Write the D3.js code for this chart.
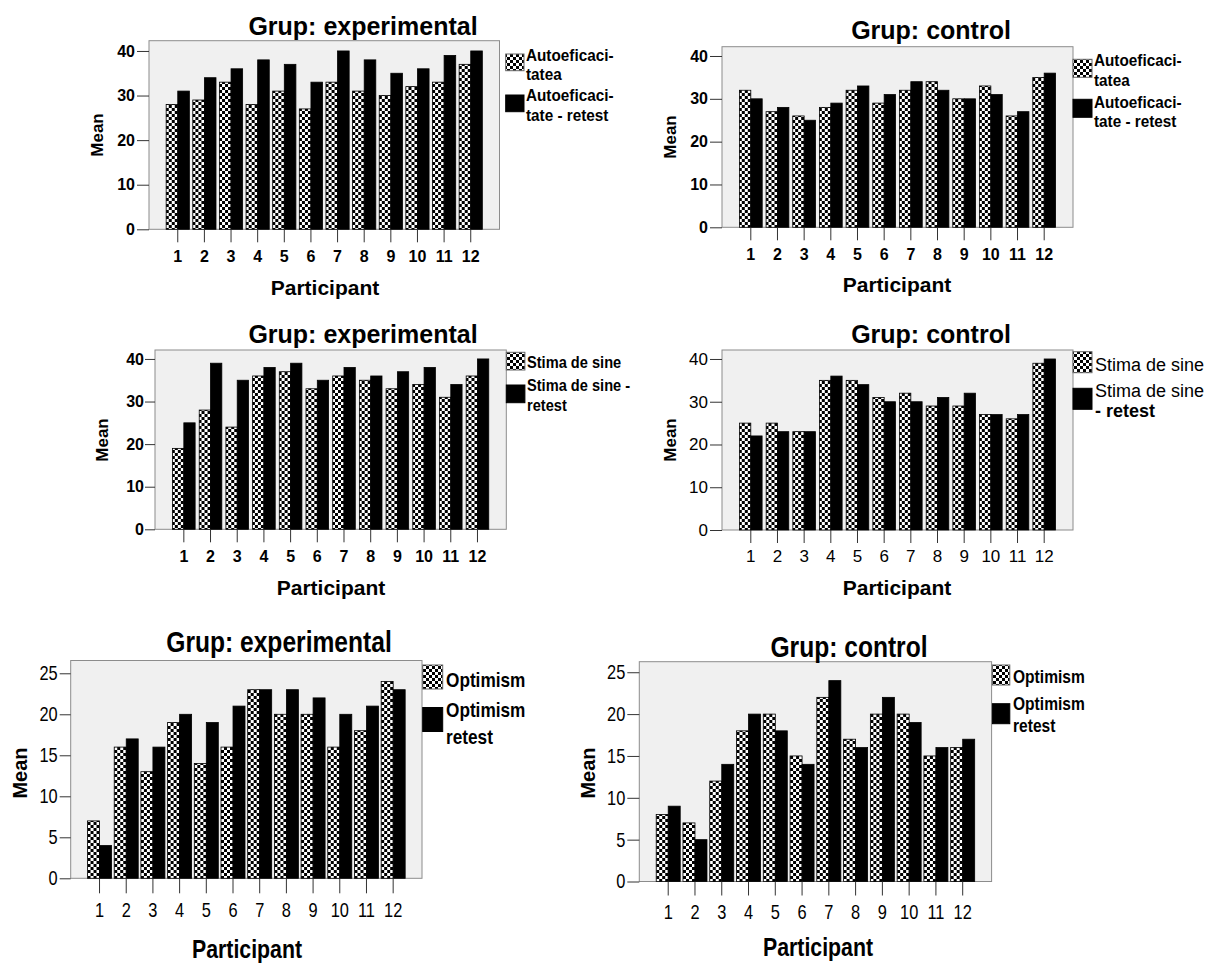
<!DOCTYPE html>
<html lang="ro">
<head>
<meta charset="UTF-8">
<title>Autoeficacitate, stima de sine, optimism - test / retest</title>
<script src="https://d3js.org/d3.v7.min.js"></script>
<style>
  body { margin: 0; background: #fff; }
  svg text { font-family: "Liberation Sans", Arial, sans-serif; fill: #000; }
</style>
</head>
<body>
<svg id="chart" width="1212" height="963"></svg>
<script>
const participants = ["1", "2", "3", "4", "5", "6", "7", "8", "9", "10", "11", "12"];

const autoefExp = [28, 29, 33, 28, 31, 27, 33, 31, 30, 32, 33, 37];
const autoefExpRetest = [31, 34, 36, 38, 37, 33, 40, 38, 35, 36, 39, 40];
const autoefCtrl = [32, 27, 26, 28, 32, 29, 32, 34, 30, 33, 26, 35];
const autoefCtrlRetest = [30, 28, 25, 29, 33, 31, 34, 32, 30, 31, 27, 36];

const stimaExp = [19, 28, 24, 36, 37, 33, 36, 35, 33, 34, 31, 36];
const stimaExpRetest = [25, 39, 35, 38, 39, 35, 38, 36, 37, 38, 34, 40];
const stimaCtrl = [25, 25, 23, 35, 35, 31, 32, 29, 29, 27, 26, 39];
const stimaCtrlRetest = [22, 23, 23, 36, 34, 30, 30, 31, 32, 27, 27, 40];

const optimExp = [7, 16, 13, 19, 14, 16, 23, 20, 20, 16, 18, 24];
const optimExpRetest = [4, 17, 16, 20, 19, 21, 23, 23, 22, 20, 21, 23];
const optimCtrl = [8, 7, 12, 18, 20, 15, 22, 17, 20, 20, 15, 16];
const optimCtrlRetest = [9, 5, 14, 20, 18, 14, 24, 16, 22, 19, 16, 17];

const yTicks40 = [0, 10, 20, 30, 40];
const yTicks25 = [0, 5, 10, 15, 20, 25];

const legendAutoef = [["Autoeficaci-", "tatea"], ["Autoeficaci-", "tate - retest"]];
const legendStimaExp = [["Stima de sine"], ["Stima de sine -", "retest"]];
const legendStimaCtrl = [["Stima de sine"], ["Stima de sine", "- retest"]];
const legendOptim = [["Optimism"], ["Optimism", "retest"]];

// ---- fonts per row of charts ----
const bold = (size, narrow) => ({ size, weight: "bold", narrow: narrow || 0 });
const reg = (size, narrow) => ({ size, weight: "normal", narrow: narrow || 0 });

const topFonts = { title: bold(25), tick: bold(16), mean: bold(17), part: bold(21), legend: bold(17, 0.9) };
const midCtrlFonts = { title: bold(25), tick: reg(17), mean: bold(17), part: bold(21), legend: reg(18) };
const lowFonts = { title: bold(30, 0.82), tick: reg(20, 0.82), mean: bold(20), part: bold(26, 0.82), legend: bold(20, 0.82) };

// ---- panel layout ----
const panels = [
  { title: "Grup: experimental", series: [autoefExp, autoefExpRetest], legend: legendAutoef, ticks: yTicks40, ymax: 42.3,
    left: 149, right: 499.5, top: 40.7, bottom: 229.3, barW: 11.6, yTick: 12, yPad: 2, xTick: 13,
    titleX: 363, titleY: 35, meanX: 97, meanY: 135, partX: 325, partY: 295, tickY: 261.7,
    legX: 505.7, legW: 18.3, legH: 16.7, legY: [54, 95], legTX: 526, legLines: [[60.5, 80], [101, 120.5]],
    fonts: topFonts },
  { title: "Grup: control", series: [autoefCtrl, autoefCtrlRetest], legend: legendAutoef, ticks: yTicks40, ymax: 42.17,
    left: 722, right: 1073, top: 46.7, bottom: 227.3, barW: 11.4, yTick: 12, yPad: 2, xTick: 13,
    titleX: 931, titleY: 39.3, meanX: 670, meanY: 137, partX: 897, partY: 292, tickY: 260,
    legX: 1073, legW: 19, legH: 18, legY: [59.3, 99.3], legTX: 1094, legLines: [[66, 85.5], [107.5, 127]],
    fonts: topFonts },
  { title: "Grup: experimental", series: [stimaExp, stimaExpRetest], legend: legendStimaExp, ticks: yTicks40, ymax: 42.1,
    left: 155, right: 506.3, top: 350, bottom: 529.3, barW: 11.3, yTick: 10, yPad: 1, xTick: 13,
    titleX: 363, titleY: 342.7, meanX: 102, meanY: 440, partX: 331, partY: 595, tickY: 561.7,
    legX: 506.3, legW: 18.6, legH: 17.7, legY: [352.3, 385], legTX: 527, legLines: [[368], [391, 410.5]],
    fonts: Object.assign({}, topFonts, { legend: bold(17, 0.86) }) },
  { title: "Grup: control", series: [stimaCtrl, stimaCtrlRetest], legend: legendStimaCtrl, ticks: yTicks40, ymax: 42.1,
    left: 722, right: 1073, top: 350, bottom: 530, barW: 11.3, yTick: 12, yPad: 2, xTick: 13,
    titleX: 931, titleY: 342.7, meanX: 670, meanY: 440, partX: 897, partY: 595, tickY: 561.7,
    legX: 1073, legW: 19, legH: 21, legY: [351.7, 388.3], legTX: 1095, legLines: [[370.7], [396.7, 417.3]],
    boldLegendLines: ["- retest"], fonts: midCtrlFonts },
  { title: "Grup: experimental", series: [optimExp, optimExpRetest], legend: legendOptim, ticks: yTicks25, ymax: 26.56,
    left: 70.7, right: 422, top: 660.5, bottom: 878.3, barW: 12, yTick: 11, yPad: 2, xTick: 15,
    titleX: 279, titleY: 652, meanX: 20, meanY: 773, partX: 247, partY: 958, tickY: 917,
    legX: 422.7, legW: 20, legH: 24, legY: [665, 707.5], legTX: 446, legLines: [[687.3], [716.7, 744]],
    fonts: Object.assign({}, lowFonts, { legend: bold(21, 0.82) }) },
  { title: "Grup: control", series: [optimCtrl, optimCtrlRetest], legend: legendOptim, ticks: yTicks25, ymax: 26.26,
    left: 639.3, right: 991.6, top: 661.7, bottom: 881.5, barW: 12, yTick: 12, yPad: 2, xTick: 14,
    titleX: 849, titleY: 656.7, meanX: 587.5, meanY: 773, partX: 818, partY: 956, tickY: 918.7,
    legX: 992.4, legW: 17.4, legH: 20, legY: [665, 703.7], legTX: 1013, legLines: [[683.3], [709.9, 731.5]],
    fonts: Object.assign({}, lowFonts, { legend: bold(19, 0.82) }) }
];

const svg = d3.select("#chart");

// checkered fill used by the first (test) series
const defs = svg.append("defs");
const pat = defs.append("pattern").attr("id", "checker")
  .attr("width", 6).attr("height", 6).attr("patternUnits", "userSpaceOnUse");
pat.append("rect").attr("width", 6).attr("height", 6).attr("fill", "#fff");
pat.append("rect").attr("width", 3).attr("height", 3).attr("fill", "#000");
pat.append("rect").attr("x", 3).attr("y", 3).attr("width", 3).attr("height", 3).attr("fill", "#000");

// condensed text is done with a horizontal squeeze, no narrow font is guaranteed
function addText(parent, str, x, y, f, anchor, rotate) {
  let tr = `translate(${x},${y})`;
  if (rotate) tr += ` rotate(${rotate})`;
  if (f.narrow) tr += ` scale(${f.narrow},1)`;
  return parent.append("text")
    .attr("transform", tr)
    .attr("text-anchor", anchor || "start")
    .style("font-size", f.size + "px")
    .style("font-weight", f.weight)
    .text(str);
}

function styleAxisText(sel, f) {
  sel.style("font-size", f.size + "px")
    .style("font-weight", f.weight)
    .style("font-family", '"Liberation Sans", Arial, sans-serif')
    .attr("fill", "#000");
  if (f.narrow) {
    sel.each(function () {
      const t = d3.select(this);
      const tx = +t.attr("x") || 0, ty = +t.attr("y") || 0;
      t.attr("x", 0).attr("y", 0).attr("transform", `translate(${tx},${ty}) scale(${f.narrow},1)`);
    });
  }
}

function drawPanel(p) {
  const g = svg.append("g");
  const f = p.fonts;

  const x = d3.scaleBand().domain(participants)
    .range([p.left, p.right]).paddingInner(0).paddingOuter(0.58);
  const inner = d3.scaleBand().domain([0, 1]).range([-p.barW, p.barW]);
  const y = d3.scaleLinear().domain([0, p.ymax]).range([p.bottom, p.top]);

  // plot frame
  g.append("rect")
    .attr("x", p.left).attr("y", p.top)
    .attr("width", p.right - p.left).attr("height", p.bottom - p.top)
    .attr("fill", "#f0f0f0").attr("stroke", "#8c8c8c").attr("stroke-width", 1);

  // bars
  const rows = participants.map((c, i) => ({ c, vals: p.series.map(s => s[i]) }));
  const cats = g.selectAll("g.cat").data(rows).join("g")
    .attr("class", "cat")
    .attr("transform", d => `translate(${x(d.c) + x.bandwidth() / 2},0)`);
  cats.selectAll("rect").data(d => d.vals.map((v, k) => ({ v, k }))).join("rect")
    .attr("x", d => inner(d.k))
    .attr("width", inner.bandwidth())
    .attr("y", d => y(d.v))
    .attr("height", d => y(0) - y(d.v))
    .attr("fill", d => d.k === 0 ? "url(#checker)" : "#000")
    .attr("stroke", "#000").attr("stroke-width", 0.8);

  // axes
  const yAxis = g.append("g").attr("transform", `translate(${p.left},0)`)
    .call(d3.axisLeft(y).tickValues(p.ticks).tickSize(p.yTick).tickPadding(p.yPad).tickFormat(d3.format("d")));
  yAxis.select(".domain").remove();
  yAxis.selectAll(".tick line").attr("stroke", "#333");
  styleAxisText(yAxis.selectAll(".tick text"), f.tick);

  const xPad = p.tickY - p.bottom - p.xTick - 0.71 * f.tick.size;
  const xAxis = g.append("g").attr("transform", `translate(0,${p.bottom})`)
    .call(d3.axisBottom(x).tickSize(p.xTick).tickPadding(xPad));
  xAxis.select(".domain").remove();
  xAxis.selectAll(".tick line").attr("stroke", "#333");
  styleAxisText(xAxis.selectAll(".tick text"), f.tick);

  // titles
  addText(g, p.title, p.titleX, p.titleY, f.title, "middle");
  addText(g, "Participant", p.partX, p.partY, f.part, "middle");
  addText(g, "Mean", p.meanX, p.meanY, f.mean, "middle", -90).attr("dy", "0.35em");

  // legend
  p.legend.forEach((lines, k) => {
    g.append("rect")
      .attr("x", p.legX).attr("y", p.legY[k])
      .attr("width", p.legW).attr("height", p.legH)
      .attr("fill", k === 0 ? "url(#checker)" : "#000")
      .attr("stroke", k === 0 ? "#666" : "#000").attr("stroke-width", 1);
    lines.forEach((line, j) => {
      const lf = (p.boldLegendLines && p.boldLegendLines.includes(line))
        ? Object.assign({}, f.legend, { weight: "bold" }) : f.legend;
      addText(g, line, p.legTX, p.legLines[k][j], lf, "start");
    });
  });
}

panels.forEach(drawPanel);
</script>
</body>
</html>
